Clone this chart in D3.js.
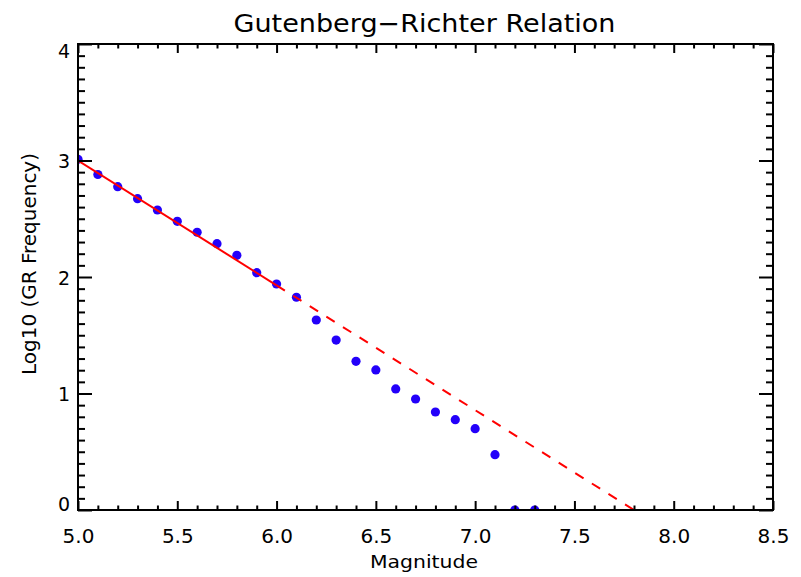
<!DOCTYPE html>
<html>
<head>
<meta charset="utf-8">
<script src="https://cdn.jsdelivr.net/npm/d3@7"></script>
<style>
  html, body { margin: 0; padding: 0; background: #fff; }
  svg { display: block; }
  text { font-family: "DejaVu Sans", sans-serif; fill: #000; }
</style>
</head>
<body>
<svg id="chart" width="801" height="577"></svg>
<script>
// ---- data ----
const magnitudes = [5.0, 5.1, 5.2, 5.3, 5.4, 5.5, 5.6, 5.7, 5.8, 5.9, 6.0, 6.1, 6.2, 6.3, 6.4, 6.5, 6.6, 6.7, 6.8, 6.9, 7.0, 7.1, 7.2, 7.3];
const logFreq    = [3.01, 2.88, 2.775, 2.672, 2.575, 2.478, 2.384, 2.286, 2.186, 2.037, 1.940, 1.826, 1.631, 1.459, 1.276, 1.202, 1.039, 0.953, 0.841, 0.775, 0.698, 0.475, 0.0, 0.0];
const fitA = 8.357;      // log10 N = a - b*M
const fitB = 1.0714;
const fitRange = [5.0, 6.0];
const extrapRange = [6.0, 8.5];
const xTicks = [5.0, 5.5, 6.0, 6.5, 7.0, 7.5, 8.0, 8.5];
const yTicks = [0, 1, 2, 3, 4];
const titleText = "Gutenberg\u2212Richter Relation";
const xLabel = "Magnitude";
const yLabel = "Log10 (GR Frequency)";

// ---- layout ----
const L = 78, R = 773, T = 44, B = 510;
const svg = d3.select("#chart");
const x = d3.scaleLinear().domain([5.0, 8.5]).range([L, R]);
const y = d3.scaleLinear().domain([0, 4]).range([B, T]);

const xMinor = d3.range(50, 86, 1).map(v => v / 10).filter(v => !xTicks.some(t => Math.abs(t - v) < 1e-9));
const yMinor = d3.range(0, 41, 1).map(v => v / 10).filter(v => !yTicks.some(t => Math.abs(t - v) < 1e-9));

// clip
svg.append("defs").append("clipPath").attr("id", "clip")
  .append("rect").attr("x", L).attr("y", T).attr("width", R - L).attr("height", B - T);

// data points
const plot = svg.append("g").attr("clip-path", "url(#clip)");
plot.selectAll("circle").data(magnitudes.map((m, i) => [m, logFreq[i]]))
  .enter().append("circle")
  .attr("cx", d => x(d[0])).attr("cy", d => y(d[1])).attr("r", 4.6)
  .attr("fill", "rgb(35,0,250)");

// fit lines
const fit = m => fitA - fitB * m;
const line = d3.line().x(d => x(d)).y(d => y(fit(d)));
plot.append("path").attr("d", line(extrapRange))
  .attr("fill", "none").attr("stroke", "#ff0000").attr("stroke-width", 2)
  .attr("stroke-dasharray", "9.8,9.8");
plot.append("path").attr("d", line(fitRange))
  .attr("fill", "none").attr("stroke", "#ff0000").attr("stroke-width", 2);

// axes
function styleAxis(g) {
  g.select(".domain").remove();
  g.selectAll(".tick line").attr("stroke", "#000").attr("stroke-width", 2);
}
// bottom
const gB = svg.append("g").attr("transform", `translate(0,${B})`)
  .call(d3.axisBottom(x).tickValues(xTicks).tickSize(-9).tickPadding(18.8).tickFormat(d3.format(".1f")));
styleAxis(gB);
gB.selectAll("text").attr("font-size", 20).attr("font-family", "DejaVu Sans, sans-serif").attr("fill", "#000");
svg.append("g").attr("transform", `translate(0,${B})`)
  .call(d3.axisBottom(x).tickValues(xMinor).tickSize(-4.5).tickFormat("")).call(styleAxis);
// top
svg.append("g").attr("transform", `translate(0,${T})`)
  .call(d3.axisTop(x).tickValues(xTicks).tickSize(-9).tickFormat("")).call(styleAxis);
svg.append("g").attr("transform", `translate(0,${T})`)
  .call(d3.axisTop(x).tickValues(xMinor).tickSize(-4.5).tickFormat("")).call(styleAxis);
// left
const gL = svg.append("g").attr("transform", `translate(${L},0)`)
  .call(d3.axisLeft(y).tickValues(yTicks).tickSize(-14).tickPadding(8).tickFormat(d3.format("d")));
styleAxis(gL);
gL.selectAll("text").attr("font-size", 19).attr("font-family", "DejaVu Sans, sans-serif").attr("fill", "#000")
  .attr("dy", d => d === 4 ? "13px" : d === 0 ? "0px" : "7px");
svg.append("g").attr("transform", `translate(${L},0)`)
  .call(d3.axisLeft(y).tickValues(yMinor).tickSize(-7).tickFormat("")).call(styleAxis);
// right
svg.append("g").attr("transform", `translate(${R},0)`)
  .call(d3.axisRight(y).tickValues(yTicks).tickSize(-14).tickFormat("")).call(styleAxis);
svg.append("g").attr("transform", `translate(${R},0)`)
  .call(d3.axisRight(y).tickValues(yMinor).tickSize(-7).tickFormat("")).call(styleAxis);

// frame
svg.append("rect").attr("x", L).attr("y", T).attr("width", R - L).attr("height", B - T)
  .attr("fill", "none").attr("stroke", "#000").attr("stroke-width", 2);

// titles
svg.append("text").attr("x", 424.5).attr("y", 32).attr("text-anchor", "middle")
  .attr("font-size", 25).attr("textLength", 382).attr("lengthAdjust", "spacingAndGlyphs")
  .text(titleText);
svg.append("text").attr("x", 424).attr("y", 568).attr("text-anchor", "middle")
  .attr("font-size", 18).attr("textLength", 108).attr("lengthAdjust", "spacingAndGlyphs")
  .text(xLabel);
svg.append("text").attr("transform", "translate(36,264) rotate(-90)").attr("text-anchor", "middle")
  .attr("font-size", 19).attr("textLength", 222).attr("lengthAdjust", "spacingAndGlyphs")
  .text(yLabel);
</script>
</body>
</html>
